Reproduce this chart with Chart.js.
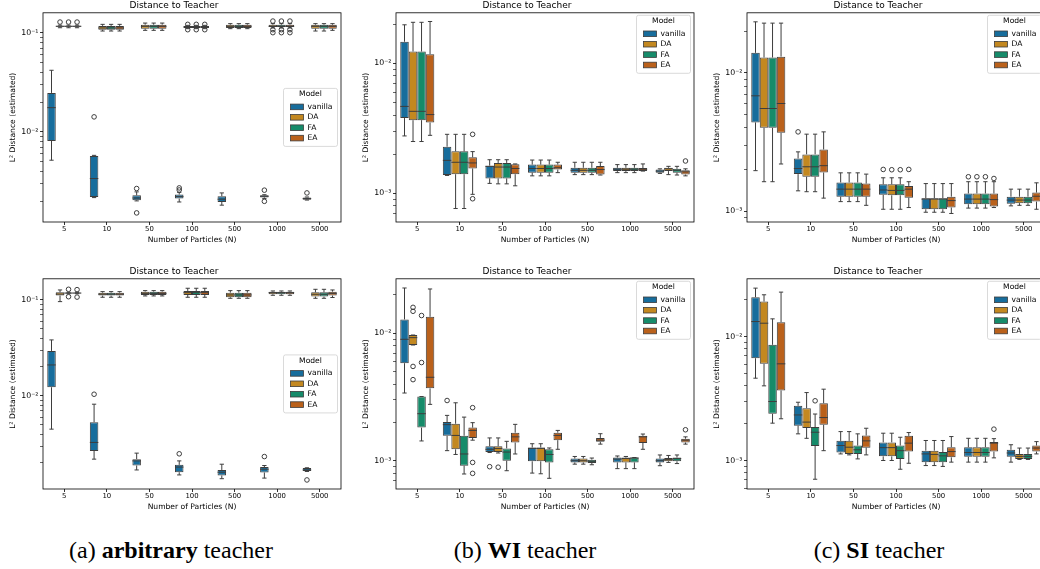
<!DOCTYPE html>
<html>
<head>
<meta charset="utf-8">
<script src="https://cdn.jsdelivr.net/npm/chart.js@4.4.1/dist/chart.umd.min.js"></script>
<style>
  html, body { margin: 0; padding: 0; background: #fff; overflow: hidden; }
  body { width: 1040px; height: 569px; position: relative; }
  canvas { position: absolute; }
  .cap { position: absolute; top: 537px; width: 300px; line-height: 26px; text-align: center;
         font-family: 'Liberation Serif', 'Times New Roman', serif; font-size: 24px; color: #000; }
</style>
</head>
<body>
<canvas id="a1" width="336" height="245" style="left:7px;top:0px"></canvas>
<canvas id="b1" width="336" height="245" style="left:360px;top:0px"></canvas>
<canvas id="c1" width="336" height="245" style="left:711px;top:0px"></canvas>
<canvas id="a2" width="336" height="246" style="left:7px;top:266px"></canvas>
<canvas id="b2" width="336" height="246" style="left:360px;top:266px"></canvas>
<canvas id="c2" width="336" height="246" style="left:711px;top:266px"></canvas>
<div class="cap" style="left:21px">(a) <b>arbitrary</b> teacher</div>
<div class="cap" style="left:375px">(b) <b>WI</b> teacher</div>
<div class="cap" style="left:729px">(c) <b>SI</b> teacher</div>
<script>
// categories / series names
const particles = ['5', '10', '50', '100', '500', '1000', '5000'];
const models = ['vanilla', 'DA', 'FA', 'EA'];
const none = [[], [], [], [], [], [], []];

// each entry: [lower whisker, q1, median, q3, upper whisker]
// (a) arbitrary teacher, top
const a1Vanilla = [[0.00518, 0.0081, 0.0176, 0.0248, 0.042], [0.00217, 0.0022, 0.00338, 0.00573, 0.0058], [0.00201, 0.00204, 0.00215, 0.00229, 0.00248], [0.00196, 0.00212, 0.00222, 0.00233, 0.00245], [0.00182, 0.00196, 0.00209, 0.00224, 0.00242], [0.00212, 0.00218, 0.00224, 0.00229, 0.00232], [0.00205, 0.00207, 0.00212, 0.00218, 0.0022]];
const a1VanillaOut = [[], [0.0142], [0.00268, 0.00152], [0.00259, 0.00272], [], [0.00258, 0.00199], [0.00242]];
const a1DA = [[0.113, 0.1155, 0.117, 0.1185, 0.12], [0.1047, 0.108, 0.1123, 0.118, 0.1223], [0.1064, 0.1106, 0.1168, 0.1213, 0.126], [0.1106, 0.1123, 0.115, 0.118, 0.1195], [0.1106, 0.1123, 0.1168, 0.1213, 0.1243], [0.1123, 0.115, 0.1168, 0.1213, 0.1243], [0.1047, 0.1106, 0.1168, 0.1213, 0.1243]];
const a1DAOut = [[0.129], [], [], [0.1223, 0.108], [], [0.132, 0.108, 0.1008], []];
const a1FA = [[0.113, 0.1155, 0.117, 0.1185, 0.12], [0.1047, 0.108, 0.1123, 0.118, 0.1223], [0.1064, 0.1106, 0.1168, 0.1213, 0.126], [0.1106, 0.1123, 0.115, 0.118, 0.1195], [0.1106, 0.1123, 0.1168, 0.1213, 0.1243], [0.1123, 0.115, 0.1168, 0.1213, 0.1243], [0.1047, 0.1106, 0.1168, 0.1213, 0.1243]];
const a1FAOut = [[0.129], [], [], [0.1223, 0.108], [], [0.132, 0.108, 0.1008], []];
const a1EA = [[0.113, 0.1155, 0.117, 0.1185, 0.12], [0.1047, 0.108, 0.1123, 0.118, 0.1223], [0.1064, 0.1106, 0.1168, 0.1213, 0.126], [0.1106, 0.1123, 0.115, 0.118, 0.1195], [0.1106, 0.1123, 0.1168, 0.1213, 0.1243], [0.1123, 0.115, 0.1168, 0.1213, 0.1243], [0.1064, 0.1106, 0.1168, 0.1213, 0.1243]];
const a1EAOut = [[0.129], [], [], [0.1223, 0.108], [], [0.132, 0.108, 0.1008], []];

// (a) arbitrary teacher, bottom
const a2Vanilla = [[0.0045, 0.0123, 0.021, 0.0294, 0.0383], [0.00219, 0.00267, 0.00327, 0.00532, 0.00819], [0.00169, 0.00188, 0.0021, 0.00219, 0.00253], [0.0015, 0.0016, 0.00181, 0.00191, 0.0021], [0.00137, 0.00148, 0.0016, 0.00169, 0.00194], [0.00139, 0.00159, 0.00172, 0.00181, 0.00188], [0.00163, 0.00165, 0.00169, 0.00177, 0.00178]];
const a2VanillaOut = [[], [0.0104], [], [0.00249], [], [0.00233], [0.00133]];
const a2DA = [[0.096, 0.111, 0.115, 0.12, 0.127], [0.1066, 0.1109, 0.1146, 0.119, 0.122], [0.11, 0.1127, 0.117, 0.122, 0.125], [0.1066, 0.1127, 0.119, 0.124, 0.1323], [0.104, 0.1066, 0.1127, 0.119, 0.125], [0.1118, 0.1146, 0.119, 0.122, 0.124], [0.104, 0.1083, 0.1146, 0.12, 0.129]];
const a2FA = [[0.116, 0.117, 0.118, 0.119, 0.12], [0.1066, 0.1109, 0.1146, 0.119, 0.122], [0.11, 0.1127, 0.117, 0.122, 0.125], [0.1066, 0.1127, 0.119, 0.124, 0.1323], [0.104, 0.1066, 0.1127, 0.119, 0.125], [0.1118, 0.1146, 0.119, 0.122, 0.124], [0.104, 0.1083, 0.1146, 0.12, 0.129]];
const a2FAOut = [[0.129, 0.108], [], [], [], [], [], []];
const a2EA = [[0.116, 0.117, 0.118, 0.119, 0.12], [0.1066, 0.1109, 0.1146, 0.119, 0.122], [0.11, 0.1127, 0.117, 0.122, 0.125], [0.1066, 0.1127, 0.119, 0.124, 0.1323], [0.104, 0.1066, 0.1127, 0.119, 0.125], [0.1118, 0.1146, 0.119, 0.122, 0.124], [0.106, 0.111, 0.117, 0.122, 0.127]];
const a2EAOut = [[0.128, 0.107], [], [], [], [], [], []];

// (b) WI teacher, top
const b1Vanilla = [[0.00276, 0.00379, 0.00466, 0.01467, 0.0198], [0.00137, 0.00138, 0.00179, 0.00228, 0.00284], [0.00119, 0.0013, 0.00161, 0.00163, 0.00181], [0.00136, 0.00144, 0.00155, 0.00166, 0.0018], [0.00139, 0.00144, 0.0015, 0.00157, 0.00173], [0.00144, 0.00148, 0.00153, 0.00157, 0.00166], [0.00142, 0.00144, 0.00148, 0.00152, 0.00154]];
const b1DA = [[0.0025, 0.00365, 0.00427, 0.01233, 0.0207], [0.000762, 0.0014, 0.00173, 0.0021, 0.00284], [0.00118, 0.0013, 0.00159, 0.00171, 0.00181], [0.00136, 0.00144, 0.00155, 0.00166, 0.0018], [0.00139, 0.00144, 0.0015, 0.00157, 0.00173], [0.00144, 0.00148, 0.00153, 0.00157, 0.00166], [0.00139, 0.00148, 0.00154, 0.00157, 0.00161]];
const b1FA = [[0.0025, 0.00365, 0.00427, 0.01233, 0.0207], [0.000762, 0.0014, 0.00173, 0.0021, 0.00284], [0.00118, 0.0013, 0.00159, 0.00171, 0.00181], [0.00136, 0.00144, 0.00155, 0.00166, 0.0018], [0.00139, 0.00144, 0.0015, 0.00157, 0.00173], [0.00144, 0.00148, 0.00153, 0.00157, 0.00166], [0.00138, 0.00144, 0.0015, 0.00154, 0.00161]];
const b1EA = [[0.00279, 0.0035, 0.00403, 0.01177, 0.021], [0.00098, 0.00155, 0.00171, 0.00189, 0.00209], [0.00114, 0.0014, 0.00155, 0.00167, 0.00168], [0.00144, 0.00152, 0.00157, 0.00166, 0.00173], [0.00138, 0.00139, 0.00152, 0.00162, 0.00173], [0.00148, 0.00148, 0.00153, 0.00156, 0.00168], [0.00136, 0.00139, 0.00146, 0.0015, 0.00154]];
const b1EAOut = [[], [0.00284, 0.000906], [], [], [], [], [0.00177]];

// (b) WI teacher, bottom
const b2Vanilla = [[0.0034, 0.00583, 0.00898, 0.01286, 0.0227], [0.0012, 0.00157, 0.00192, 0.00201, 0.00227], [0.00116, 0.00117, 0.00123, 0.0013, 0.00151], [0.0008, 0.00099, 0.00125, 0.00127, 0.00136], [0.00094, 0.00097, 0.001, 0.00104, 0.00108], [0.000867, 0.00097, 0.00103, 0.00106, 0.00109], [0.000914, 0.00097, 0.001, 0.00104, 0.00111]];
const b2VanillaOut = [[], [0.00297], [0.000898], [], [], [], []];
const b2DA = [[0.0081, 0.0081, 0.00925, 0.0097, 0.0097], [0.00112, 0.00123, 0.00158, 0.00195, 0.00285], [0.00115, 0.00117, 0.00125, 0.0013, 0.00151], [0.00079, 0.00099, 0.00125, 0.00127, 0.00136], [0.00094, 0.00097, 0.001, 0.00104, 0.00108], [0.000867, 0.00097, 0.00104, 0.00106, 0.00108], [0.00097, 0.00099, 0.00102, 0.00105, 0.0011]];
const b2DAOut = [[0.016, 0.0149, 0.0055, 0.00433], [], [0.00089], [], [], [], []];
const b2FA = [[0.00143, 0.00182, 0.00234, 0.00319, 0.00319], [0.000787, 0.000914, 0.00113, 0.00157, 0.0022], [0.000835, 0.001, 0.00117, 0.00125, 0.00142], [0.000728, 0.00097, 0.00112, 0.00123, 0.00126], [0.00093, 0.00096, 0.00099, 0.00102, 0.00105], [0.000867, 0.00097, 0.00105, 0.00106, 0.00106], [0.00095, 0.00099, 0.00104, 0.00106, 0.00111]];
const b2FAOut = [[0.0138, 0.0059], [], [], [], [], [], []];
const b2EA = [[0.00277, 0.0037, 0.00452, 0.01348, 0.0223], [0.00145, 0.00151, 0.00173, 0.00182, 0.00199], [0.00113, 0.00139, 0.00154, 0.00166, 0.00193], [0.00123, 0.00145, 0.00158, 0.00166, 0.00173], [0.00135, 0.00141, 0.00145, 0.00151, 0.00163], [0.00123, 0.00138, 0.00154, 0.00157, 0.00162], [0.00135, 0.00139, 0.00145, 0.00149, 0.00154]];
const b2EAOut = [[], [0.00261, 0.00097, 0.000796], [], [], [], [], [0.00175]];

// (c) SI teacher, top
const c1Vanilla = [[0.00196, 0.00438, 0.00682, 0.01396, 0.0234], [0.0014, 0.00185, 0.00203, 0.0024, 0.00268], [0.00117, 0.00127, 0.00144, 0.00161, 0.00189], [0.00103, 0.00131, 0.00142, 0.00156, 0.00174], [0.00098, 0.00103, 0.00122, 0.00124, 0.00158], [0.00105, 0.00112, 0.00122, 0.00134, 0.00163], [0.00109, 0.00113, 0.0012, 0.00127, 0.00144]];
const c1VanillaOut = [[], [0.00374], [], [0.002], [], [0.00177], []];
const c1DA = [[0.00163, 0.004, 0.00552, 0.01291, 0.0229], [0.00138, 0.00177, 0.00209, 0.00257, 0.0036], [0.00117, 0.00127, 0.00144, 0.00161, 0.00189], [0.00103, 0.0013, 0.00141, 0.00156, 0.00174], [0.00098, 0.00103, 0.00122, 0.00124, 0.00158], [0.00105, 0.00112, 0.00122, 0.00134, 0.00163], [0.0011, 0.00114, 0.0012, 0.00127, 0.00144]];
const c1DAOut = [[], [], [], [0.00199], [], [0.00177], []];
const c1FA = [[0.00163, 0.004, 0.00552, 0.01291, 0.0229], [0.00138, 0.00177, 0.00209, 0.00257, 0.0036], [0.00117, 0.00127, 0.00144, 0.00161, 0.00189], [0.00103, 0.0013, 0.00141, 0.00156, 0.00174], [0.00098, 0.00103, 0.00122, 0.00124, 0.00158], [0.00105, 0.00112, 0.00122, 0.00134, 0.00163], [0.0011, 0.00114, 0.0012, 0.00127, 0.00144]];
const c1FAOut = [[], [], [], [0.00199], [], [0.00177], []];
const c1EA = [[0.00219, 0.00368, 0.006, 0.0131, 0.0229], [0.00124, 0.0019, 0.00213, 0.00279, 0.00374], [0.0011, 0.00127, 0.00144, 0.00158, 0.00185], [0.00106, 0.00125, 0.00144, 0.00152, 0.00163], [0.00096, 0.00106, 0.00119, 0.00127, 0.00158], [0.00106, 0.00108, 0.00121, 0.00134, 0.00163], [0.00103, 0.00117, 0.00128, 0.00136, 0.0016]];
const c1EAOut = [[], [], [], [0.002], [], [0.00172], []];

// (c) SI teacher, bottom
const c2Vanilla = [[0.00461, 0.00668, 0.0132, 0.02076, 0.02455], [0.00164, 0.00191, 0.00233, 0.00276, 0.00295], [0.00113, 0.00116, 0.00132, 0.00144, 0.00171], [0.001, 0.00108, 0.00127, 0.0014, 0.00166], [0.00091, 0.00097, 0.00113, 0.0012, 0.00145], [0.00097, 0.00107, 0.00116, 0.00128, 0.00151], [0.00097, 0.00107, 0.00115, 0.00122, 0.00134]];
const c2DA = [[0.004, 0.00602, 0.0128, 0.01914, 0.0217], [0.00151, 0.00183, 0.00204, 0.00264, 0.00353], [0.00111, 0.00113, 0.00128, 0.00144, 0.00171], [0.001, 0.00108, 0.00127, 0.0014, 0.00166], [0.00091, 0.00097, 0.00112, 0.0012, 0.00145], [0.00097, 0.00107, 0.00116, 0.00128, 0.00151], [0.00102, 0.00103, 0.00108, 0.00113, 0.00126]];
const c2FA = [[0.002, 0.00238, 0.00299, 0.00857, 0.01388], [0.000706, 0.00131, 0.00169, 0.00186, 0.00237], [0.00103, 0.00113, 0.00122, 0.00132, 0.00164], [0.00085, 0.00103, 0.0012, 0.00132, 0.00154], [0.000896, 0.00097, 0.00109, 0.00117, 0.00145], [0.00097, 0.00107, 0.00116, 0.00128, 0.00151], [0.00102, 0.00103, 0.00108, 0.00113, 0.00126]];
const c2FAOut = [[], [0.00303], [], [], [], [], []];
const c2EA = [[0.00217, 0.00367, 0.00602, 0.01305, 0.0228], [0.0012, 0.00194, 0.00222, 0.0029, 0.00376], [0.00111, 0.00127, 0.00144, 0.00159, 0.00182], [0.00095, 0.00118, 0.00138, 0.00158, 0.00168], [0.00097, 0.00106, 0.00118, 0.00128, 0.00156], [0.00105, 0.00118, 0.00138, 0.00141, 0.0015], [0.00113, 0.00118, 0.00126, 0.00132, 0.00142]];
const c2EAOut = [[], [], [], [], [], [0.00179], []];

const COLORS = ['#176d9c', '#c38820', '#168b6a', '#ba611b'];
const LINE = '#3d3d3d';

Chart.defaults.font.family = "'DejaVu Sans', sans-serif";
Chart.defaults.color = '#000';

const SUP = { '-': '\u207B', '0': '\u2070', '1': '\u00B9', '2': '\u00B2', '3': '\u00B3', '4': '\u2074', '5': '\u2075', '6': '\u2076', '7': '\u2077', '8': '\u2078', '9': '\u2079' };
function powLabel(v) {
  const e = Math.log10(v);
  if (Math.abs(e - Math.round(e)) > 1e-9) return '';
  return '10' + String(Math.round(e)).split('').map(c => SUP[c]).join('');
}

// spines on all four sides
const frame = {
  id: 'frame',
  afterDatasetsDraw(chart) {
    const { ctx, chartArea: a } = chart;
    ctx.save();
    ctx.strokeStyle = '#000';
    ctx.lineWidth = 0.8;
    ctx.strokeRect(a.left, a.top, a.right - a.left, a.bottom - a.top);
    ctx.restore();
  }
};

// whiskers, caps, medians and fliers on top of the floating bars
const boxParts = {
  id: 'boxParts',
  afterDatasetsDraw(chart) {
    const { ctx, chartArea: a } = chart;
    const y = chart.scales.y;
    ctx.save();
    ctx.beginPath();
    ctx.rect(a.left, a.top, a.right - a.left, a.bottom - a.top);
    ctx.clip();
    ctx.strokeStyle = LINE;
    ctx.lineWidth = 1;
    chart.data.datasets.forEach((ds, i) => {
      chart.getDatasetMeta(i).data.forEach((bar, j) => {
        const s = ds.stats[j];
        if (!s) return;
        const { x, width } = bar.getProps(['x', 'width'], true);
        const [lo, q1, med, q3, hi] = s.map(v => y.getPixelForValue(v));
        const cap = width / 4, half = width / 2;
        ctx.beginPath();
        ctx.moveTo(x, q3); ctx.lineTo(x, hi);
        ctx.moveTo(x, q1); ctx.lineTo(x, lo);
        ctx.moveTo(x - cap, hi); ctx.lineTo(x + cap, hi);
        ctx.moveTo(x - cap, lo); ctx.lineTo(x + cap, lo);
        ctx.moveTo(x - half, med); ctx.lineTo(x + half, med);
        ctx.stroke();
        (ds.fliers[j] || []).forEach(v => {
          ctx.beginPath();
          ctx.arc(x, y.getPixelForValue(v), 2.3, 0, Math.PI * 2);
          ctx.stroke();
        });
      });
    });
    ctx.restore();
  }
};

// matplotlib-style legend box with a title
const boxLegend = {
  id: 'boxLegend',
  afterDraw(chart, args, opts) {
    const { ctx, chartArea: a } = chart;
    const w = 54, h = 58;
    const x = a.right - 3.5 - w;
    const y0 = opts.place === 'center' ? (a.top + a.bottom) / 2 - h / 2 : a.top + 2.5;
    ctx.save();
    ctx.beginPath();
    ctx.roundRect(x, y0, w, h, 2);
    ctx.fillStyle = 'rgba(255,255,255,0.85)';
    ctx.fill();
    ctx.strokeStyle = '#d0d0d0';
    ctx.lineWidth = 0.8;
    ctx.stroke();
    ctx.font = "7.6px 'DejaVu Sans'";
    ctx.fillStyle = '#000';
    ctx.textBaseline = 'middle';
    ctx.textAlign = 'center';
    ctx.fillText('Model', x + w / 2, y0 + 6);
    ctx.textAlign = 'left';
    chart.data.datasets.forEach((ds, i) => {
      const cy = y0 + 18.5 + i * 10.4;
      ctx.fillStyle = ds.backgroundColor;
      ctx.fillRect(x + 7, cy - 2.8, 13, 5.6);
      ctx.strokeStyle = LINE;
      ctx.strokeRect(x + 7, cy - 2.8, 13, 5.6);
      ctx.fillStyle = '#000';
      ctx.fillText(ds.label, x + 24, cy);
    });
    ctx.restore();
  }
};

function drawPanel(id, series, outs, yMin, yMax, place) {
  new Chart(document.getElementById(id), {
    type: 'bar',
    data: {
      labels: particles,
      datasets: models.map((m, i) => ({
        label: m,
        data: series[i].map(s => [s[1], s[3]]),
        stats: series[i],
        fliers: outs[i],
        backgroundColor: COLORS[i],
        borderColor: LINE,
        borderWidth: 1,
        borderSkipped: false,
        categoryPercentage: 0.8,
        barPercentage: 1.0
      }))
    },
    options: {
      responsive: false,
      animation: false,
      devicePixelRatio: 1,
      events: [],
      layout: { padding: { left: 0, right: 2, top: 0, bottom: 0 } },
      plugins: {
        legend: { display: false },
        tooltip: { enabled: false },
        title: { display: true, text: 'Distance to Teacher', color: '#000', font: { size: 9, weight: 'normal' }, padding: { top: 0, bottom: 2 } },
        boxLegend: { place: place }
      },
      scales: {
        x: {
          offset: true,
          grid: { display: true, drawOnChartArea: false, drawTicks: true, tickLength: 3, offset: false, color: '#000', tickWidth: 0.8 },
          border: { display: false },
          ticks: { color: '#000', font: { size: 6.9 }, padding: 0.5, maxRotation: 0, autoSkip: false },
          title: { display: true, text: 'Number of Particles (N)', color: '#000', font: { size: 7.6 }, padding: { top: 0, bottom: 0 } },
          afterFit: s => { s.height = 23; }
        },
        y: {
          type: 'logarithmic',
          min: yMin,
          max: yMax,
          grid: { display: true, drawOnChartArea: false, drawTicks: true, tickLength: 3, color: '#000', tickWidth: ctx => (ctx.tick && powLabel(ctx.tick.value) ? 0.8 : 0.6) },
          border: { display: false },
          ticks: { color: '#000', font: { size: 7.8 }, padding: 1.5, autoSkip: false, major: { enabled: false }, callback: v => powLabel(v) },
          title: { display: true, text: 'L\u00B2 Distance (estimated)', color: '#000', font: { size: 7.6 }, padding: { top: 1, bottom: 0 } },
          afterBuildTicks: scale => {
            const t = [];
            for (let e = Math.floor(Math.log10(yMin)); e <= Math.ceil(Math.log10(yMax)); e++) {
              for (let k = 1; k <= 9; k++) {
                const v = k * Math.pow(10, e);
                if (v >= yMin && v <= yMax) t.push({ value: v });
              }
            }
            scale.ticks = t;
          },
          afterFit: s => { s.width = 36; }
        }
      }
    },
    plugins: [frame, boxParts, boxLegend]
  });
}

drawPanel('a1', [a1Vanilla, a1DA, a1FA, a1EA], [a1VanillaOut, a1DAOut, a1FAOut, a1EAOut], 0.00123, 0.16, 'center');
drawPanel('b1', [b1Vanilla, b1DA, b1FA, b1EA], [none, none, none, b1EAOut], 0.000644, 0.0245, 'top');
drawPanel('c1', [c1Vanilla, c1DA, c1FA, c1EA], [c1VanillaOut, c1DAOut, c1FAOut, c1EAOut], 0.000833, 0.0272, 'top');
drawPanel('a2', [a2Vanilla, a2DA, a2FA, a2EA], [a2VanillaOut, none, a2FAOut, a2EAOut], 0.00107, 0.166, 'center');
drawPanel('b2', [b2Vanilla, b2DA, b2FA, b2EA], [b2VanillaOut, b2DAOut, b2FAOut, b2EAOut], 0.000616, 0.0268, 'top');
drawPanel('c2', [c2Vanilla, c2DA, c2FA, c2EA], [none, none, c2FAOut, c2EAOut], 0.000589, 0.0292, 'top');
</script>
</body>
</html>
